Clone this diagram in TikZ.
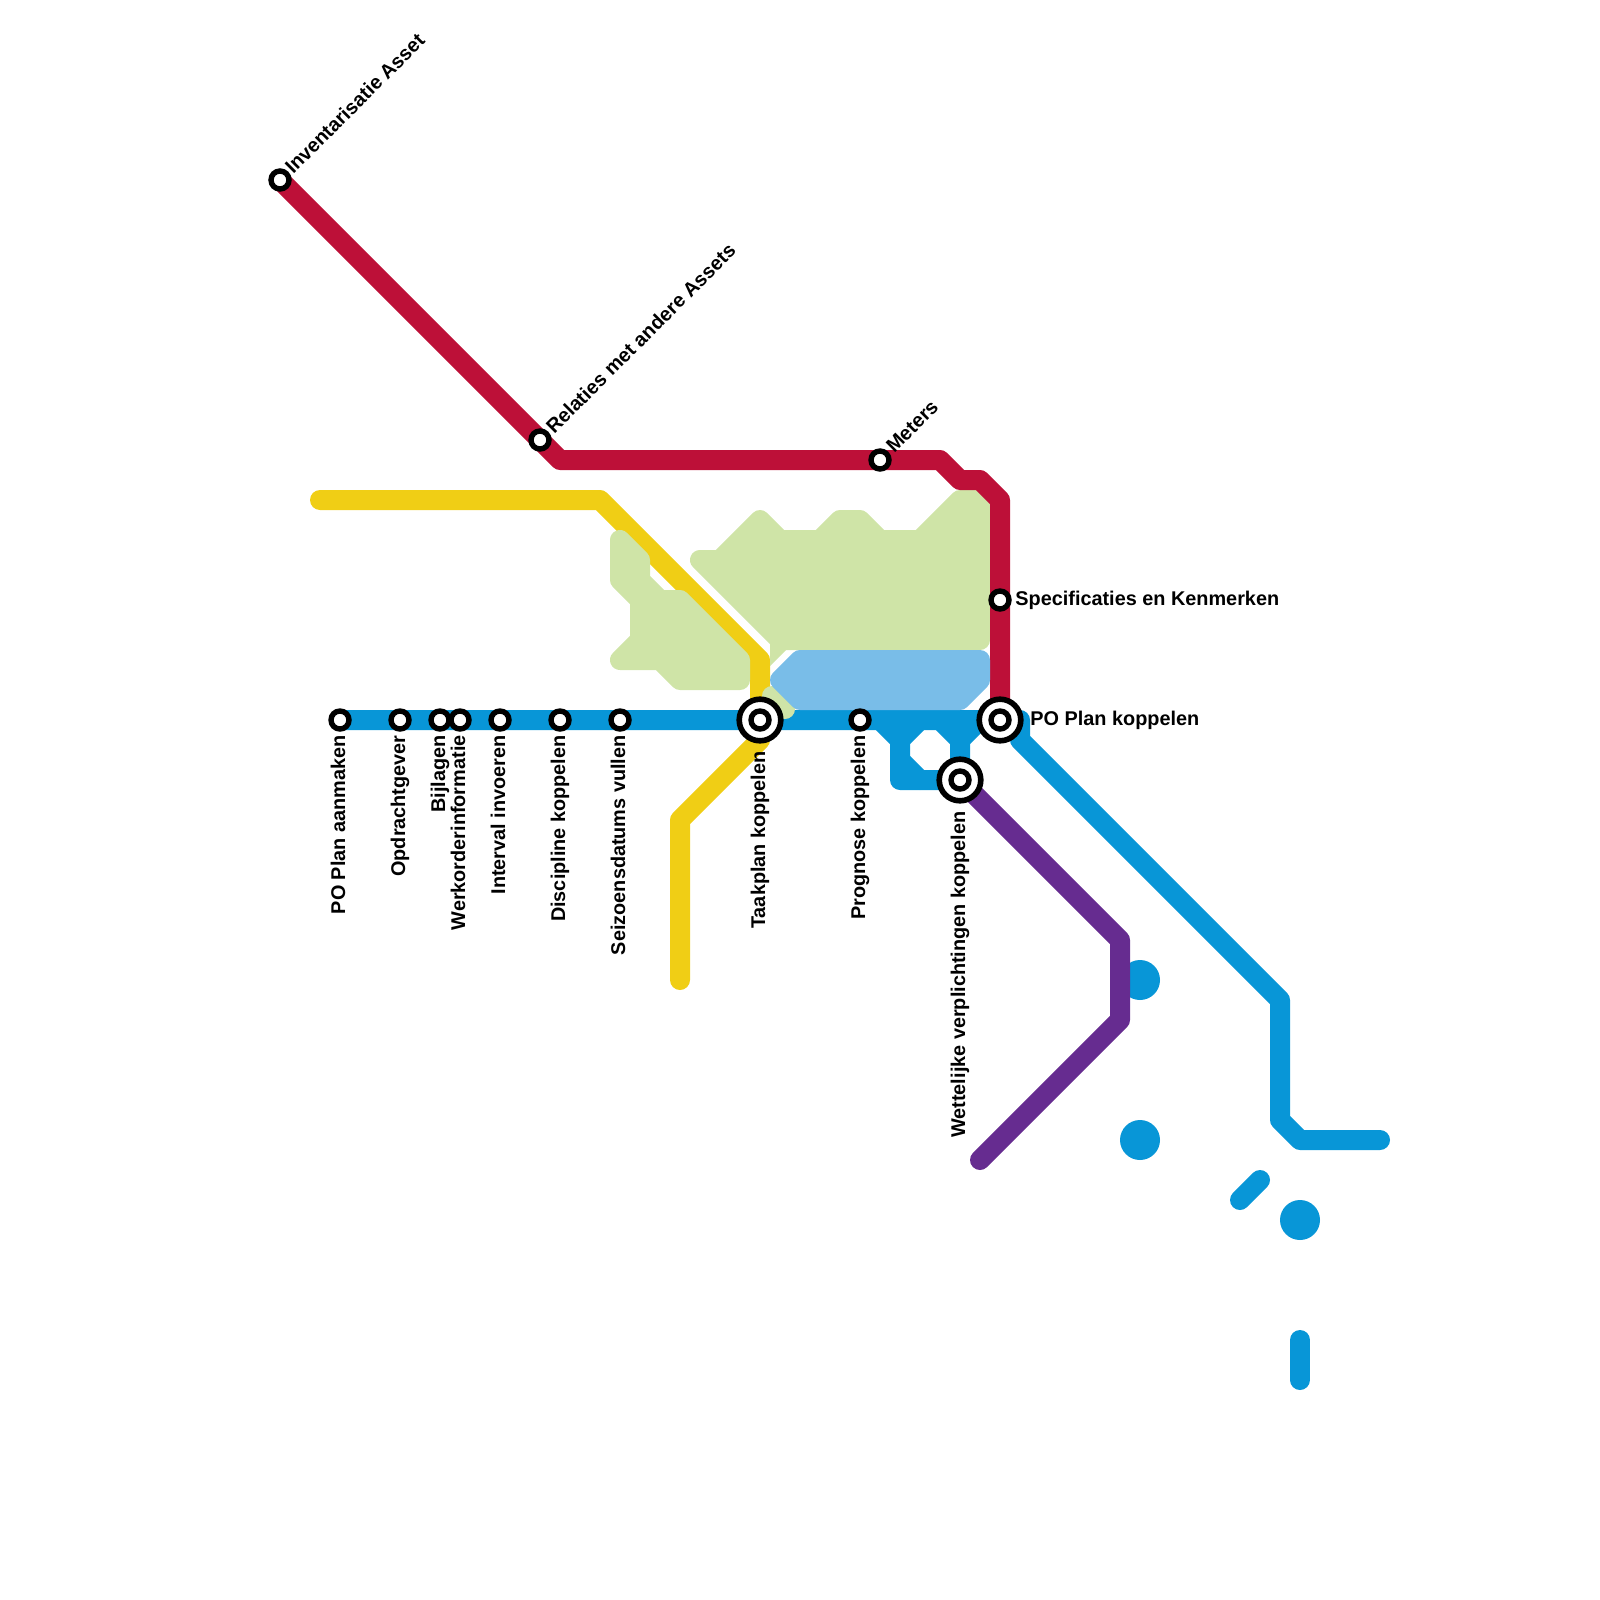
\documentclass[tikz,border=0pt]{standalone}
\usepackage{fontspec}
\setmainfont{Liberation Sans}
\definecolor{lred}{HTML}{BD1038}
\definecolor{lyellow}{HTML}{F0CE15}
\definecolor{lblue}{HTML}{0896D7}
\definecolor{lpurple}{HTML}{662C90}
\definecolor{agreen}{HTML}{CFE4A7}
\definecolor{ablue}{HTML}{79BDE8}
\tikzset{
  metro/.style={line width=10pt,line cap=round,line join=round},
  area/.style={line width=10pt,line join=round,draw=#1,fill=#1},
  st/.style={circle,draw=black,fill=white,line width=2.7pt,minimum size=9pt,inner sep=0pt},
  bigst/.style={circle,draw=black,fill=white,line width=2.8pt,minimum size=20.8pt,inner sep=0pt},
  lab/.style={font=\bfseries\fontsize{9.93}{12}\selectfont,inner sep=0pt,text=black},
  lv/.style={lab,rotate=90,anchor=base east},
  ld/.style={lab,rotate=45,anchor=base west},
  lh/.style={lab,anchor=base west},
  dot/.style={circle,fill=lblue,minimum size=20pt,inner sep=0pt}
}
\begin{document}
\begin{tikzpicture}[x=0.5pt,y=-0.5pt]
\useasboundingbox (0,0) rectangle (1600,1600);
% station positions
\coordinate (inv) at (280,180);
\coordinate (rel) at (540,440);
\coordinate (met) at (880,460);
\coordinate (spec) at (1000,600);
\coordinate (poa) at (340,720);
\coordinate (opd) at (400,720);
\coordinate (bij) at (440,720);
\coordinate (wer) at (460,720);
\coordinate (int) at (500,720);
\coordinate (dis) at (560,720);
\coordinate (sei) at (620,720);
\coordinate (taa) at (760,720);
\coordinate (pro) at (860,720);
\coordinate (wet) at (960,780);
\coordinate (pok) at (1000,720);
% free line ends
\coordinate (yA) at (320,500);
\coordinate (yB) at (680,980);
\coordinate (bE) at (1380,1140);
\coordinate (pE) at (980,1160);
% yellow
\draw[metro,lyellow] (yA) -- (600,500) -- (760,660) -- (taa) -- (760,740) -- (680,820) -- (yB);
% areas
\filldraw[area=agreen] (700,560) -- (720,560) -- (760,520) -- (780,540) -- (820,540) -- (840,520) -- (860,520) -- (880,540) -- (920,540) -- (960,500) -- (980,500) -- (980,640) -- (780,640) -- cycle;
\fill[agreen] (770,640) -- (770,666) -- (800,636) -- cycle;
\filldraw[area=agreen] (620,540) -- (640,560) -- (640,580) -- (660,600) -- (680,600) -- (740,660) -- (740,680) -- (680,680) -- (660,660) -- (620,660) -- (640,640) -- (640,600) -- (620,580) -- cycle;
% blue
\draw[metro,lblue] (poa) -- (opd) -- (bij) -- (wer) -- (int) -- (dis) -- (sei) -- (taa) -- (pro) -- (pok) -- (1020,720) -- (1020,740) -- (1280,1000) -- (1280,1120) -- (1300,1140) -- (bE);
\draw[metro,lblue] (880,720) -- (900,740) -- (900,780) -- (wet);
\draw[metro,lblue] (900,740) -- (920,720);
\draw[metro,lblue] (900,760) -- (920,780);
\draw[metro,lblue] (940,720) -- (960,740) -- (wet);
\draw[metro,lblue] (960,740) -- (980,720);
\node[dot] (d1) at (1140,980) {};
\node[dot] (d2) at (1140,1140) {};
\node[dot] (d3) at (1300,1220) {};
\draw[metro,lblue] (1240,1200) -- (1260,1180);
\draw[metro,lblue] (1300,1340) -- (1300,1380);
% red
\draw[metro,lred] (inv) -- (rel) -- (560,460) -- (met) -- (940,460) -- (960,480) -- (980,480) -- (1000,500) -- (spec) -- (pok);
% purple
\draw[metro,lpurple] (wet) -- (1120,940) -- (1120,1020) -- (pE);
% green bit and light blue area
\draw[line width=10pt,line cap=round,agreen] (772,696) -- (785,709);
\filldraw[area=ablue] (780,680) -- (800,660) -- (980,660) -- (980,680) -- (960,700) -- (800,700) -- cycle;
% stations
\foreach \n in {inv,rel,met,spec,poa,opd,bij,wer,int,dis,sei,pro}{\node[st] (n\n) at (\n) {};}
\foreach \n in {taa,wet,pok}{\node[bigst] (o\n) at (\n) {}; \node[st] (n\n) at (\n) {};}
% labels
\node[ld] (tinv) at (293,175) {Inventarisatie Asset};
\node[ld] (trel) at (554,435) {Relaties met andere Assets};
\node[ld] (tmet) at (894,454) {Meters};
\node[lh] (tspec) at (1015,605) {Specificaties en Kenmerken};
\node[lh] (tpok) at (1030,725) {PO Plan koppelen};
\node[lv] (tpoa) at (345,735) {PO Plan aanmaken};
\node[lv] (topd) at (405,735) {Opdrachtgever};
\node[lv] (tbij) at (445,735) {Bijlagen};
\node[lv] (twer) at (465,735) {Werkorderinformatie};
\node[lv] (tint) at (505,735) {Interval invoeren};
\node[lv] (tdis) at (565,735) {Discipline koppelen};
\node[lv] (tsei) at (625,735) {Seizoensdatums vullen};
\node[lv] (ttaa) at (765,751) {Taakplan koppelen};
\node[lv] (tpro) at (865,735) {Prognose koppelen};
\node[lv] (twet) at (965,811) {Wettelijke verplichtingen koppelen};
\end{tikzpicture}
\end{document}
